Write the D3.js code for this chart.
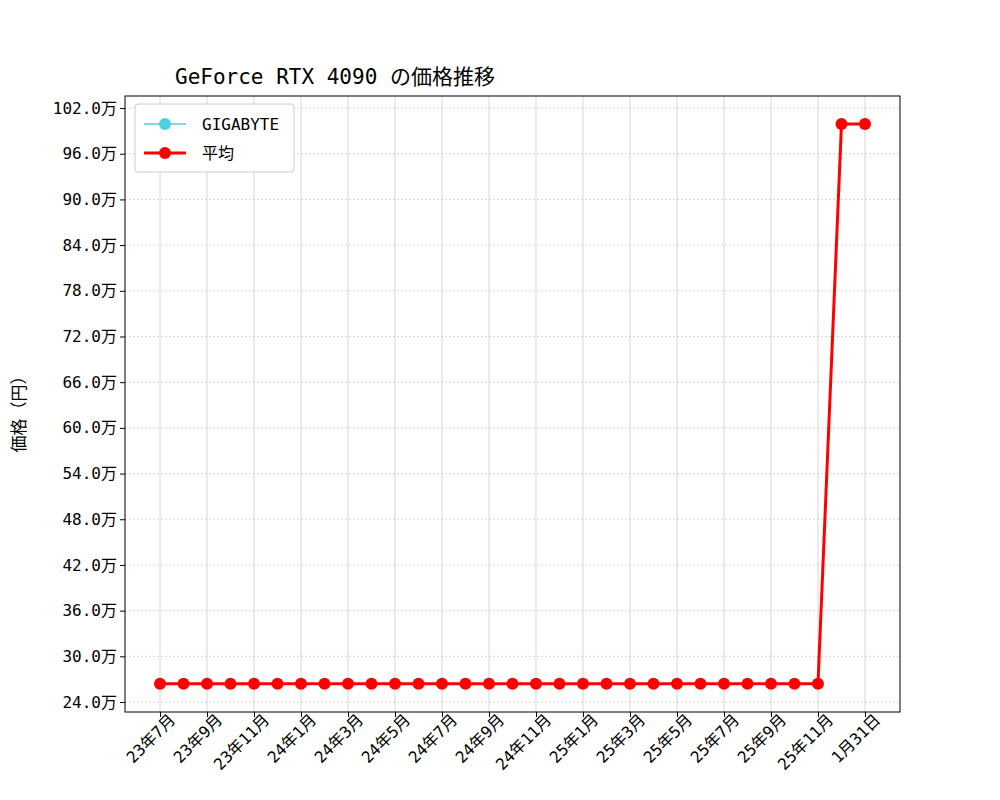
<!DOCTYPE html><html><head><meta charset="utf-8"><script src="https://cdn.jsdelivr.net/npm/d3@7"></script>
<style>body{margin:0;background:#fff}text{font-family:"DejaVu Sans Mono","Noto Sans CJK JP",monospace;}</style></head><body><svg id="c" width="1000" height="800"></svg><script>
const categories=["23年7月","23年8月","23年9月","23年10月","23年11月","23年12月","24年1月","24年2月","24年3月","24年4月","24年5月","24年6月","24年7月","24年8月","24年9月","24年10月","24年11月","24年12月","25年1月","25年2月","25年3月","25年4月","25年5月","25年6月","25年7月","25年8月","25年9月","25年10月","25年11月","25年12月","1月31日"];
const gigabyte=[264000,264000,264000,264000,264000,264000,264000,264000,264000,264000,264000,264000,264000,264000,264000,264000,264000,264000,264000,264000,264000,264000,264000,264000,264000,264000,264000,264000,264000,999000,999000];
const average=gigabyte.slice();
const yTicks=[240000,300000,360000,420000,480000,540000,600000,660000,720000,780000,840000,900000,960000,1020000];
const xTickIdx=[0,2,4,6,8,10,12,14,16,18,20,22,24,26,28,30];
const svg=d3.select("#c");
const L=125,R=900,T=96,B=712;
const x=d3.scaleLinear().domain([-1.49,31.49]).range([L,R]);
const y=d3.scaleLinear().domain([226900,1035800]).range([B,T]);
const g=svg.append("g");
g.selectAll(".gx").data(xTickIdx).join("line").attr("x1",d=>x(d)).attr("x2",d=>x(d)).attr("y1",T).attr("y2",B).attr("stroke","#ccc").attr("stroke-width",0.8);
g.selectAll(".gy").data(yTicks).join("line").attr("x1",L).attr("x2",R).attr("y1",d=>y(d)).attr("y2",d=>y(d)).attr("stroke","#bbb").attr("stroke-width",0.6).attr("stroke-dasharray","2,2");
const xa=svg.append("g").attr("transform",`translate(0,${B})`).call(d3.axisBottom(x).tickValues(xTickIdx).tickFormat(i=>categories[i]).tickSize(5).tickSizeOuter(0));
xa.selectAll("text").attr("font-size",16).attr("text-anchor","end").attr("dx","0.3em").attr("dy","0.6em").attr("transform","rotate(-45)").attr("fill","#000");
const ya=svg.append("g").attr("transform",`translate(${L},0)`).call(d3.axisLeft(y).tickValues(yTicks).tickFormat(v=>(v/10000).toFixed(1)+"万").tickSize(5).tickSizeOuter(0));
ya.selectAll("text").attr("font-size",16).attr("fill","#000");
svg.selectAll(".domain").remove();
svg.append("rect").attr("x",L).attr("y",T).attr("width",R-L).attr("height",B-T).attr("fill","none").attr("stroke","#000");
const line=d3.line().x((d,i)=>x(i)).y(d=>y(d));
svg.append("path").datum(gigabyte).attr("d",line).attr("fill","none").attr("stroke","#4dd0e1").attr("stroke-width",1.5);
svg.selectAll(".pg").data(gigabyte).join("circle").attr("cx",(d,i)=>x(i)).attr("cy",d=>y(d)).attr("r",5).attr("fill","#4dd0e1");
svg.append("path").datum(average).attr("d",line).attr("fill","none").attr("stroke","#ff0000").attr("stroke-width",3);
svg.selectAll(".pa").data(average).join("circle").attr("cx",(d,i)=>x(i)).attr("cy",d=>y(d)).attr("r",6).attr("fill","#ff0000");
svg.append("text").attr("x",175).attr("y",84).attr("font-size",21).text("GeForce RTX 4090 の価格推移");
svg.append("text").attr("transform","translate(25,410) rotate(-90)").attr("text-anchor","middle").attr("font-size",17).text("価格（円）");
const lg=svg.append("g");
lg.append("rect").attr("x",135).attr("y",104).attr("width",159).attr("height",68).attr("rx",3).attr("fill","#fff").attr("stroke","#ccc");
lg.append("line").attr("x1",144).attr("x2",186).attr("y1",124).attr("y2",124).attr("stroke","#4dd0e1").attr("stroke-width",1.5);
lg.append("circle").attr("cx",165).attr("cy",124).attr("r",6).attr("fill","#4dd0e1");
lg.append("text").attr("x",202).attr("y",130).attr("font-size",16).text("GIGABYTE");
lg.append("line").attr("x1",144).attr("x2",186).attr("y1",153).attr("y2",153).attr("stroke","#f00").attr("stroke-width",3);
lg.append("circle").attr("cx",165).attr("cy",153).attr("r",6).attr("fill","#f00");
lg.append("text").attr("x",202).attr("y",159).attr("font-size",16).text("平均");
</script></body></html>
